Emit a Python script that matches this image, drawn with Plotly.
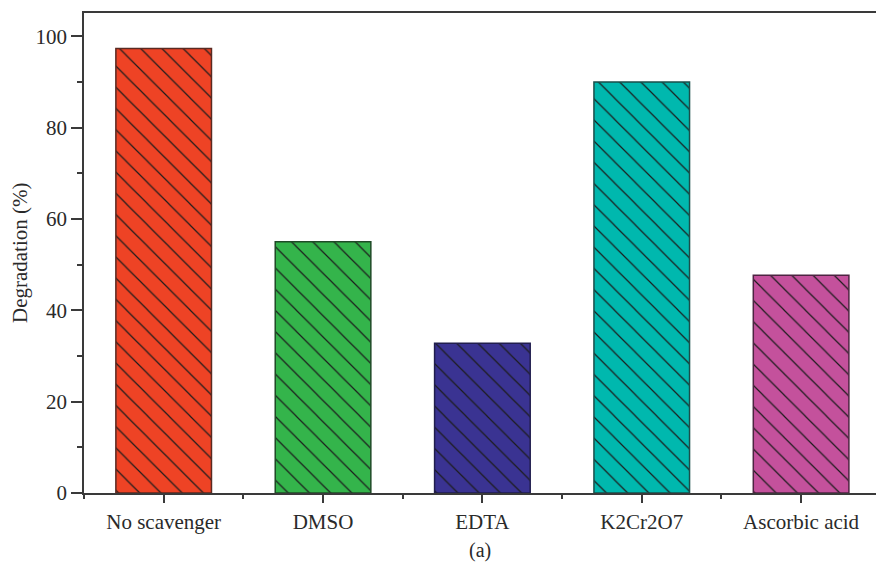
import plotly.graph_objects as go

# Scavenger experiment: degradation efficiency for each trapping agent
categories = ["No scavenger", "DMSO", "EDTA", "K2Cr2O7", "Ascorbic acid"]
degradation = [97.3, 55.0, 32.8, 90.0, 47.7]
fill_colors = ["#EE4325", "#34B44B", "#3A3392", "#00B8AE", "#C4519C"]
edge_colors = ["#5A2A22", "#1F4A27", "#211E4E", "#1A4E4A", "#4E2442"]

y_ticks = [0, 20, 40, 60, 80, 100]

FONT = "Liberation Serif"
AXIS_COLOR = "#3a3a3a"
TEXT_COLOR = "#2a2a2a"

positions = list(range(len(categories)))

fig = go.Figure()
# One trace per bar so each gets its own solid background under the hatching
for pos, name, val, fill, edge in zip(positions, categories, degradation,
                                      fill_colors, edge_colors):
    fig.add_trace(
        go.Bar(
            x=[pos],
            y=[val],
            name=name,
            width=0.6,
            marker=dict(
                color=fill,
                line=dict(color=edge, width=1.5),
                pattern=dict(
                    shape="\\",
                    size=15,
                    solidity=0.08,
                    fgcolor="#1c1c1c",
                    bgcolor=fill,
                    fillmode="replace",
                ),
            ),
            showlegend=False,
            hovertemplate=name + ": %{y}%<extra></extra>",
        )
    )

fig.update_layout(
    width=876,
    height=567,
    margin=dict(l=84, r=0, t=13, b=74),
    paper_bgcolor="white",
    plot_bgcolor="white",
    font=dict(family=FONT, size=21, color=TEXT_COLOR),
    barmode="overlay",
)

fig.update_xaxes(
    range=[-0.5, 4.47],
    tickmode="array",
    tickvals=positions,
    ticktext=categories,
    ticks="outside",
    ticklen=8,
    tickwidth=1.5,
    tickcolor=AXIS_COLOR,
    minor=dict(
        tickmode="array",
        tickvals=[p - 0.5 for p in positions],
        ticks="outside",
        ticklen=4,
        tickwidth=1.5,
        tickcolor=AXIS_COLOR,
    ),
    showline=True,
    linecolor=AXIS_COLOR,
    linewidth=1.5,
    mirror=True,
    showgrid=False,
    zeroline=False,
    tickfont=dict(family=FONT, size=21),
    ticklabelstandoff=1,
)

fig.update_yaxes(
    range=[0, 105.1],
    tickmode="array",
    tickvals=y_ticks,
    ticks="outside",
    ticklen=11,
    tickwidth=1.5,
    tickcolor=AXIS_COLOR,
    minor=dict(
        dtick=10,
        tick0=0,
        ticks="outside",
        ticklen=5,
        tickwidth=1.5,
        tickcolor=AXIS_COLOR,
    ),
    showline=True,
    linecolor=AXIS_COLOR,
    linewidth=1.5,
    showgrid=False,
    zeroline=False,
    tickfont=dict(family=FONT, size=21),
)

# Axis title and panel label
fig.add_annotation(
    text="Degradation (%)",
    xref="paper", yref="paper",
    x=-84 / 792 + 20 / 792, y=0.5,
    xanchor="center", yanchor="middle",
    textangle=-90,
    showarrow=False,
    font=dict(family=FONT, size=21, color=TEXT_COLOR),
)
fig.add_annotation(
    text="(a)",
    xref="paper", yref="paper",
    x=(480 - 84) / 792, y=-(550 - 493) / 480,
    xanchor="center", yanchor="middle",
    showarrow=False,
    font=dict(family=FONT, size=20, color=TEXT_COLOR),
)

fig.write_html("out.html")
